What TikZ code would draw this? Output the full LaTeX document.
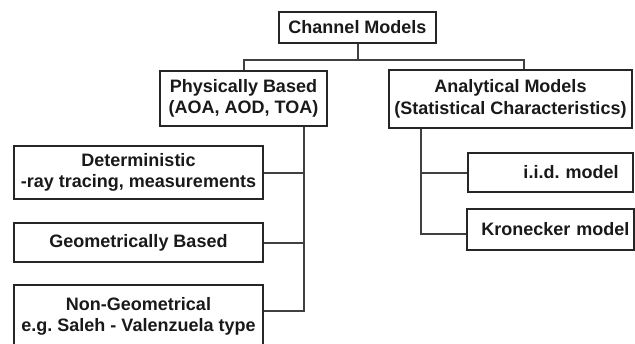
\documentclass[tikz,border=0pt]{standalone}
\usepackage{fontspec}
\setmainfont{Liberation Sans}
\usetikzlibrary{positioning}
\frenchspacing
\tikzset{
  box/.style={draw=black!85, line width=2.4pt, inner sep=0pt, align=center,
    font=\fontsize{18}{21.5}\selectfont\bfseries, text=black!90},
  link/.style={draw=black!75, line width=2pt},
}
\begin{document}
\begin{tikzpicture}[x=1pt,y=-1pt]
\useasboundingbox (0,0) rectangle (635,343);
\clip (0,0) rectangle (635,343);
% ---------- top levels ----------
\node[box, minimum width=157pt, minimum height=31pt] (root) at (357.5,27.5) {Channel Models};
\node[box, minimum width=167pt, minimum height=55pt] (phys) at (243.5,98.5) {Physically Based\\(AOA, AOD, TOA)};
\node[box, minimum width=243pt, minimum height=58pt] (anal) at (510.5,99) {Analytical Models\\(Statistical Characteristics)};
\draw[link] (root.south) -- ++(0,16) coordinate (split) -| (phys.north);
\draw[link] (split) -| ([xshift=13.5pt]anal.north);
% ---------- physically based branch ----------
\node[box, minimum width=249pt, minimum height=53pt] (det) at (138.5,172.5) {Deterministic\\-ray tracing, measurements};
\node[box, minimum width=249pt, minimum height=39pt] (geo) at (138.5,242.5) {Geometrically Based};
\node[box, minimum width=249pt, minimum height=62pt, anchor=north] (nongeo) at (138.5,284) {Non-Geometrical\\e.g. Saleh - Valenzuela type};
\coordinate (pbus) at ([xshift=60.5pt]phys.south);
\draw[link] (pbus) |- ([yshift=5pt]nongeo.east);
\draw[link] (det.east) -- (det.east -| pbus);
\draw[link] (geo.east) -- (geo.east -| pbus);
% ---------- analytical branch ----------
\node[box, minimum width=165pt, minimum height=39pt, text width=158pt, align=right] (iid) at (550.5,172.5) {i.i.d. model\hspace*{11pt}};
\node[box, minimum width=167pt, minimum height=41pt, text width=158pt, align=right] (kron) at (550.5,229.5) {Kronecker model};
\coordinate (abus) at ([xshift=-89.5pt]anal.south);
\draw[link] (abus) |- ([yshift=-4.5pt]kron.west);
\draw[link] (iid.west) -- (iid.west -| abus);
\end{tikzpicture}
\end{document}
